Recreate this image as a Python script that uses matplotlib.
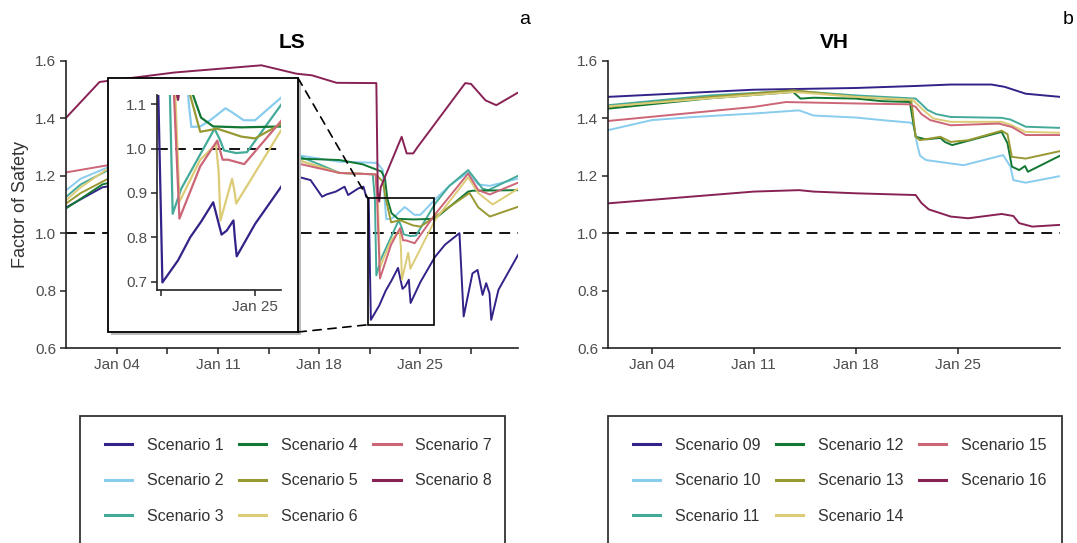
import numpy as np
import pandas as pd
import matplotlib
matplotlib.use('Agg')
import matplotlib.pyplot as plt
import matplotlib.dates as mdates
from matplotlib.patches import Rectangle, ConnectionPatch
from matplotlib.ticker import FixedLocator, FormatStrFormatter

plt.rcParams['font.family'] = ['Liberation Sans', 'DejaVu Sans']

#%% data (day of January, factor of safety)

# LS scenarios
t_s1 = [0.5, 3.0, 8.0, 14.0, 16.5, 17.4, 18.2, 18.5, 19.15, 19.75, 20.0, 20.7, 21.06, 21.25, 21.42, 21.57,
        22.15, 22.6, 23.0, 23.45, 23.76, 23.95, 24.2, 24.25, 24.32, 25.0, 26.0, 26.7, 27.7, 27.99, 28.6, 28.95,
        29.3, 29.55, 29.78, 29.9, 30.4, 31.75]
y_s1 = [1.09, 1.16, 1.20, 1.21, 1.197, 1.185, 1.127, 1.135, 1.145, 1.162, 1.133, 1.156, 1.162, 1.127, 1.12, 0.698,
        0.748, 0.80, 0.835, 0.879, 0.806, 0.815, 0.838, 0.80, 0.757, 0.83, 0.917, 0.96, 1.0, 0.71, 0.86, 0.872,
        0.785, 0.826, 0.79, 0.698, 0.803, 0.924]

t_s2 = [0.5, 1.5, 3.4, 8, 14, 16.5, 18.0, 19.4, 22.0, 22.4, 22.55, 22.64, 22.97, 23.34, 23.9, 24.1, 24.58, 25.0,
        26.0, 27.0, 28.3, 29.0, 29.8, 31.75]
y_s2 = [1.15, 1.19, 1.23, 1.255, 1.27, 1.272, 1.26, 1.249, 1.245, 1.22, 1.10, 1.049, 1.05, 1.064, 1.091, 1.084,
        1.064, 1.064, 1.117, 1.165, 1.212, 1.17, 1.165, 1.19]

t_s3 = [0.5, 1.5, 3.4, 8, 14, 16.5, 18.0, 19.4, 21.7, 21.85, 21.95, 22.27, 22.97, 23.5, 23.7, 23.85, 24.3, 24.7,
        26.0, 27.0, 28.3, 29.3, 29.7, 31.75]
y_s3 = [1.127, 1.17, 1.22, 1.25, 1.265, 1.27, 1.24, 1.21, 1.205, 1.12, 0.853, 0.91, 0.987, 1.045, 1.02, 0.996,
        0.99, 0.992, 1.102, 1.165, 1.22, 1.155, 1.15, 1.20]

t_s4 = [0.5, 1.5, 3.0, 8, 14, 16.5, 19.4, 21.0, 22.3, 22.55, 22.71, 23.0, 23.45, 24.5, 26.0, 28.3, 28.6, 31.75]
y_s4 = [1.087, 1.12, 1.17, 1.23, 1.255, 1.26, 1.255, 1.24, 1.215, 1.19, 1.12, 1.07, 1.05, 1.048, 1.05, 1.145,
        1.148, 1.15]

t_s5 = [0.5, 1.5, 3.4, 8, 14, 16.5, 19.4, 21.9, 22.4, 22.6, 22.97, 23.6, 24.5, 25.0, 26.0, 28.4, 29.0, 29.8, 31.75]
y_s5 = [1.104, 1.14, 1.19, 1.23, 1.25, 1.255, 1.21, 1.205, 1.18, 1.12, 1.038, 1.045, 1.027, 1.023, 1.057, 1.14,
        1.09, 1.058, 1.092]

t_s6 = [0.5, 1.5, 3.4, 8, 14, 16.5, 19.4, 21.9, 22.05, 22.2, 22.97, 23.55, 23.65, 23.72, 24.15, 24.25, 24.3,
        26.0, 28.3, 29.0, 30.0, 31.75]
y_s6 = [1.115, 1.16, 1.226, 1.25, 1.26, 1.255, 1.21, 1.205, 1.12, 0.88, 0.975, 1.01, 0.95, 0.838, 0.932, 0.90,
        0.876, 1.045, 1.195, 1.14, 1.10, 1.155]

t_s7 = [0.5, 3.4, 8, 14, 16.5, 19.4, 21.9, 22.0, 22.2, 22.97, 23.6, 23.8, 24.0, 24.6, 26.0, 28.3, 29.0, 29.8, 31.75]
y_s7 = [1.212, 1.237, 1.242, 1.245, 1.243, 1.21, 1.205, 1.12, 0.842, 0.96, 1.018, 0.975, 0.975, 0.965, 1.065,
        1.208, 1.15, 1.135, 1.176]

t_s8 = [0.5, 2.8, 8, 14.0, 16.4, 17.5, 19.2, 21.95, 22.05, 22.15, 22.25, 23.7, 24.05, 24.5, 24.8, 28.1, 28.5,
        29.5, 30.25, 31.75]
y_s8 = [1.403, 1.527, 1.56, 1.585, 1.556, 1.55, 1.524, 1.523, 1.14, 1.11, 1.16, 1.336, 1.278, 1.278, 1.30, 1.523,
        1.52, 1.463, 1.446, 1.49]

# VH scenarios
t_s09 = [1.0, 11.0, 18.0, 22.1, 24.5, 27.3, 28.2, 29.65, 32.0]
y_s09 = [1.475, 1.50, 1.506, 1.513, 1.518, 1.518, 1.51, 1.486, 1.475]

t_s10 = [1.0, 4.0, 6.9, 11.0, 14.1, 15.1, 18.0, 19.8, 21.8, 22.0, 22.2, 22.4, 22.8, 24.5, 25.4, 28.1, 28.6, 28.8,
         29.65, 32.0]
y_s10 = [1.359, 1.394, 1.405, 1.417, 1.428, 1.41, 1.403, 1.394, 1.385, 1.37, 1.31, 1.27, 1.255, 1.243, 1.237,
         1.272, 1.232, 1.185, 1.176, 1.199]

t_s11 = [1.0, 8.0, 13.7, 18.0, 22.1, 22.5, 22.9, 23.5, 24.5, 28.0, 28.6, 29.65, 32.0]
y_s11 = [1.446, 1.48, 1.496, 1.48, 1.469, 1.45, 1.43, 1.415, 1.405, 1.402, 1.396, 1.371, 1.367]

t_s12 = [1.0, 8.0, 13.7, 14.2, 15.1, 18.0, 19.8, 21.7, 22.1, 22.8, 23.8, 24.1, 24.6, 28.0, 28.4, 28.7, 29.2,
         29.6, 29.8, 32.0]
y_s12 = [1.434, 1.47, 1.492, 1.469, 1.472, 1.469, 1.46, 1.457, 1.336, 1.327, 1.332, 1.318, 1.307, 1.353, 1.313,
         1.232, 1.22, 1.234, 1.214, 1.27]

t_s13 = [1.0, 8.0, 13.7, 18.0, 21.8, 22.1, 22.4, 23.8, 24.5, 25.7, 28.0, 28.4, 28.7, 29.65, 32.0]
y_s13 = [1.44, 1.475, 1.498, 1.475, 1.463, 1.336, 1.324, 1.336, 1.318, 1.324, 1.357, 1.345, 1.266, 1.26, 1.286]

t_s14 = [1.0, 8.0, 13.7, 18.0, 21.9, 22.6, 23.3, 24.5, 28.0, 28.6, 29.65, 32.0]
y_s14 = [1.442, 1.47, 1.492, 1.475, 1.465, 1.43, 1.40, 1.388, 1.388, 1.378, 1.353, 1.35]

t_s15 = [1.0, 11.0, 13.2, 18.0, 21.7, 22.1, 22.5, 23.1, 24.5, 27.8, 28.7, 29.65, 32.0]
y_s15 = [1.391, 1.44, 1.457, 1.452, 1.449, 1.44, 1.415, 1.394, 1.376, 1.382, 1.37, 1.342, 1.342]

t_s16 = [1.0, 11.0, 14.1, 15.1, 18.0, 22.1, 22.5, 23.0, 24.5, 25.7, 28.0, 28.8, 29.2, 30.1, 32.0]
y_s16 = [1.104, 1.145, 1.15, 1.145, 1.139, 1.133, 1.105, 1.083, 1.058, 1.052, 1.067, 1.06, 1.035, 1.023, 1.029]

ls_labels = ['Scenario 1', 'Scenario 2', 'Scenario 3', 'Scenario 4',
             'Scenario 5', 'Scenario 6', 'Scenario 7', 'Scenario 8']
vh_labels = ['Scenario 09', 'Scenario 10', 'Scenario 11', 'Scenario 12',
             'Scenario 13', 'Scenario 14', 'Scenario 15', 'Scenario 16']
colors = ['#332288', '#88CCEE', '#44AA99', '#117733', '#999933', '#DDCC77', '#CC6677', '#882255']

ls_t = [t_s1, t_s2, t_s3, t_s4, t_s5, t_s6, t_s7, t_s8]
ls_y = [y_s1, y_s2, y_s3, y_s4, y_s5, y_s6, y_s7, y_s8]
vh_t = [t_s09, t_s10, t_s11, t_s12, t_s13, t_s14, t_s15, t_s16]
vh_y = [y_s09, y_s10, y_s11, y_s12, y_s13, y_s14, y_s15, y_s16]

minor_days = [7.5, 14.5, 21.5, 28.5]
zoom_box = [21.37, 25.96, 0.681, 1.121]   # inset range: t0, t1, y0, y1


def to_dates(days):
    days = np.asarray(days, dtype=float)
    return np.datetime64('2021-01-01T00:00') + np.round((days - 1) * 1440).astype('timedelta64[m]')


W, H = 1077, 543
fig = plt.figure(figsize=(W / 100, H / 100), dpi=100)

tick_col = '#4d4d4d'
text_col = '#333333'


def style_axes(ax, fs=11):
    for s in ['top', 'right']:
        ax.spines[s].set_visible(False)
    for s in ['left', 'bottom']:
        ax.spines[s].set_linewidth(1.2)
        ax.spines[s].set_color('#222222')
    ax.tick_params(which='both', length=4, width=1.1, color='#222222', labelcolor=tick_col,
                   labelsize=fs, pad=3)
    ax.xaxis.set_major_locator(mdates.DayLocator(bymonthday=[4, 11, 18, 25]))
    ax.xaxis.set_major_formatter(mdates.DateFormatter('%b %d'))


def fig_rect(x0, y0, x1, y1):
    # pixel box (from top-left) -> figure fraction
    return [x0 / W, 1 - y1 / H, (x1 - x0) / W, (y1 - y0) / H]


ax1 = fig.add_axes(fig_rect(66, 61, 518, 348))
ax2 = fig.add_axes(fig_rect(608, 61, 1060, 348))

ls_lines = []
for t, y, c, lab in zip(ls_t, ls_y, colors, ls_labels):
    ln, = ax1.plot(to_dates(t), y, color=c, lw=1.4, label=lab)
    ls_lines.append(ln)
vh_lines = []
for t, y, c, lab in zip(vh_t, vh_y, colors, vh_labels):
    ln, = ax2.plot(to_dates(t), y, color=c, lw=1.4, label=lab)
    vh_lines.append(ln)

for ax in [ax1, ax2]:
    style_axes(ax)
    ax.axhline(1.0, color='black', lw=1.3, ls=(0, (6, 4)), zorder=1)
    ax.set_ylim(0.6, 1.6)
    ax.set_yticks(np.arange(0.6, 1.61, 0.2))
    ax.yaxis.set_major_formatter(FormatStrFormatter('%.1f'))

ax1.set_xlim(to_dates([0.48, 31.75]))
ax1.xaxis.set_minor_locator(FixedLocator(mdates.date2num(to_dates(minor_days))))
ax2.set_xlim(to_dates([1.0, 32.0]))

ax1.set_title('LS', fontsize=15, fontweight='bold', pad=9)
ax2.set_title('VH', fontsize=15, fontweight='bold', pad=9)
ax1.set_ylabel('Factor of Safety', fontsize=13, color=text_col)
ax1.yaxis.set_label_coords(-0.082, 0.5)

fig.text(525 / W, 1 - 20 / H, 'a', fontsize=14, color='black', ha='center', va='center')
fig.text(1068 / W, 1 - 20 / H, 'b', fontsize=14, color='black', ha='center', va='center')

# zoom rectangle on main axes
ax1.add_patch(Rectangle((mdates.date2num(to_dates([zoom_box[0]]))[0], zoom_box[2]),
                        zoom_box[1] - zoom_box[0], zoom_box[3] - zoom_box[2],
                        fill=False, edgecolor='black', lw=1.2, zorder=5))

# inset frame with shadow
bx = fig_rect(108, 78, 298, 332)
fig.patches.append(Rectangle((bx[0] + 3 / W, bx[1] - 3 / H), bx[2], bx[3], transform=fig.transFigure,
                             facecolor='#bbbbbb', edgecolor='none', zorder=1))
fig.patches.append(Rectangle((bx[0], bx[1]), bx[2], bx[3], transform=fig.transFigure,
                             facecolor='white', edgecolor='black', lw=1.3, zorder=1.1))

# connectors
x0n = mdates.date2num(to_dates([zoom_box[0]]))[0]
for fy, dy in [(bx[1] + bx[3], zoom_box[3]), (bx[1], zoom_box[2])]:
    cp = ConnectionPatch(xyA=(bx[0] + bx[2], fy), coordsA=fig.transFigure,
                         xyB=(x0n, dy), coordsB=ax1.transData,
                         color='black', lw=1.2, ls=(0, (5, 4)), zorder=1.05)
    fig.add_artist(cp)

axi = fig.add_axes(fig_rect(157, 95, 281, 290))
axi.set_zorder(3)
for t, y, c in zip(ls_t, ls_y, colors):
    axi.plot(to_dates(t), y, color=c, lw=1.6)
style_axes(axi)
axi.axhline(1.0, color='black', lw=1.3, ls=(0, (6, 4)), zorder=1)
axi.set_xlim(to_dates(zoom_box[:2]))
axi.set_ylim(zoom_box[2], zoom_box[3])
axi.set_yticks([0.7, 0.8, 0.9, 1.0, 1.1])
axi.yaxis.set_major_formatter(FormatStrFormatter('%.1f'))
axi.xaxis.set_minor_locator(FixedLocator(mdates.date2num(to_dates(minor_days))))
axi.patch.set_alpha(0)

# legends
for lines, labels, x0, x1, hx in [(ls_lines, ls_labels, 80, 505, 105), (vh_lines, vh_labels, 608, 1062, 633)]:
    fig.patches.append(Rectangle((x0 / W, -0.1), (x1 - x0) / W, 1 - 416 / H + 0.1, transform=fig.transFigure,
                                 facecolor='none', edgecolor='#333333', lw=1.3))
    leg = fig.legend(lines, labels, loc='upper left', bbox_to_anchor=(hx / W, 1 - 438 / H), ncol=3,
                     frameon=False, borderpad=0, borderaxespad=0, handlelength=1.7, handletextpad=0.9,
                     columnspacing=1.0, labelspacing=1.28, fontsize=11.5, labelcolor=text_col)
    for ln in leg.get_lines():
        ln.set_linewidth(2.2)

fig.savefig('out.png', dpi=100)
